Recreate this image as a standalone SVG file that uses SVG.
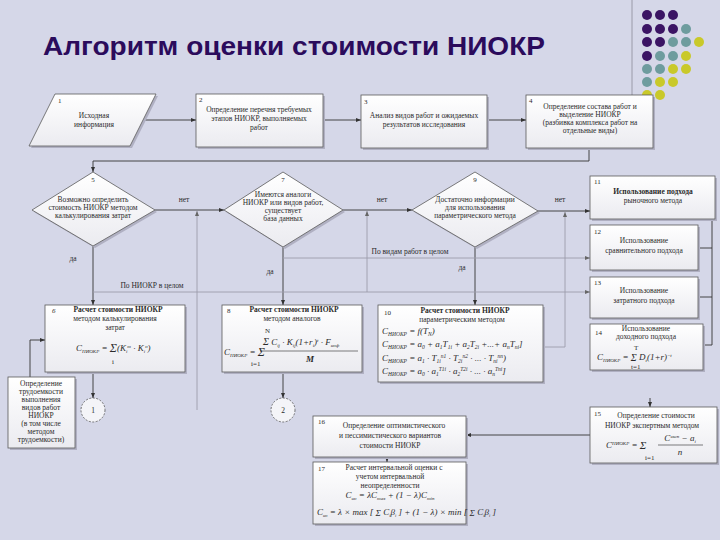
<svg xmlns="http://www.w3.org/2000/svg" width="720" height="540" viewBox="0 0 720 540">
<defs>
<linearGradient id="g" x1="0" y1="0" x2="0" y2="1"><stop offset="0" stop-color="#ffffff"/><stop offset="1" stop-color="#ebebf0"/></linearGradient>
<marker id="a" viewBox="0 0 10 10" refX="10" refY="5" markerWidth="6" markerHeight="6" orient="auto-start-reverse"><path d="M0,1 L10,5 L0,9 z" fill="#333"/></marker>
<marker id="ag" viewBox="0 0 10 10" refX="10" refY="5" markerWidth="6" markerHeight="6" orient="auto-start-reverse"><path d="M0,1 L10,5 L0,9 z" fill="#666"/></marker>
</defs>
<style>
.bx{fill:url(#g);stroke:#5a5a5a;stroke-width:.8}
.sh{fill:#b0b0c2}
.c{fill:none;stroke:#333;stroke-width:.9}
.cg{fill:none;stroke:#9c9cac;stroke-width:.9}
.t{font-family:"Liberation Serif",serif;font-size:7.5px;fill:#2a2a2a;text-anchor:middle}
.l{font-family:"Liberation Serif",serif;font-size:7.5px;fill:#2a2a2a}
.n{font-family:"Liberation Serif",serif;font-size:7px;fill:#2a2a2a}
.f{font-family:"Liberation Serif",serif;font-style:italic;font-size:9px;fill:#2a2a2a}
.b{font-weight:bold}
.dot1{fill:#3b1464}.dot2{fill:#6e9c9e}.dot3{fill:#c9c92a}
</style>
<rect width="720" height="540" fill="#d5d7e8"/>
<line x1="632" y1="0" x2="632" y2="95" stroke="#9a9aa8" stroke-width="1"/>
<g id="dots">
<circle class="dot1" cx="647" cy="15" r="5"/><circle class="dot1" cx="660" cy="15" r="5"/><circle class="dot1" cx="673" cy="15" r="5"/>
<circle class="dot1" cx="647" cy="29" r="5"/><circle class="dot1" cx="660" cy="29" r="5"/><circle class="dot1" cx="673" cy="29" r="5"/><circle class="dot2" cx="686" cy="29" r="5"/>
<circle class="dot1" cx="647" cy="42" r="5"/><circle class="dot1" cx="660" cy="42" r="5"/><circle class="dot2" cx="673" cy="42" r="5"/><circle class="dot2" cx="686" cy="42" r="5"/><circle class="dot3" cx="699" cy="42" r="5"/>
<circle class="dot1" cx="647" cy="56" r="5"/><circle class="dot2" cx="660" cy="56" r="5"/><circle class="dot2" cx="673" cy="56" r="5"/><circle class="dot3" cx="686" cy="56" r="5"/>
<circle class="dot2" cx="647" cy="69" r="5"/><circle class="dot2" cx="660" cy="69" r="5"/><circle class="dot3" cx="673" cy="69" r="5"/><circle class="dot3" cx="686" cy="69" r="5"/>
<circle class="dot2" cx="647" cy="82" r="5"/><circle class="dot3" cx="660" cy="82" r="5"/><circle class="dot3" cx="673" cy="82" r="5"/>
<circle class="dot3" cx="647" cy="95" r="5"/><circle class="dot3" cx="660" cy="95" r="5"/>
</g>
<text x="43" y="55" font-family="'Liberation Sans',Arial,sans-serif" font-weight="bold" font-size="26" fill="#2b0b5c" textLength="502" lengthAdjust="spacingAndGlyphs">Алгоритм оценки стоимости НИОКР</text>

<g id="connectors">
<polyline class="c" points="143,120 196,120" marker-end="url(#a)"/>
<polyline class="c" points="323,120 361,120" marker-end="url(#a)"/>
<polyline class="c" points="487,120 526,120" marker-end="url(#a)"/>
<polyline class="c" points="589,148 589,161 93,161 93,172" marker-end="url(#a)"/>
<polyline class="c" points="155,210 224,210" marker-end="url(#a)"/>
<polyline class="c" points="343,210 412,210" marker-end="url(#a)"/>
<polyline class="c" points="538,211 590,211" marker-end="url(#a)"/>
<polyline class="c" points="93,246 93,305" marker-end="url(#a)"/>
<polyline class="c" points="283,247 283,305" marker-end="url(#a)"/>
<polyline class="c" points="475,247 475,305" marker-end="url(#a)"/>
<polyline class="cg" points="283,258 590,258" marker-end="url(#ag)"/>
<polyline class="cg" points="93,292 590,292" marker-end="url(#ag)"/>
<polyline class="cg" points="197,410 197,211" marker-end="url(#ag)"/>
<polyline class="cg" points="367,292 367,211" marker-end="url(#ag)"/>
<polyline class="cg" points="543,347 565,347 565,212" marker-end="url(#ag)"/>
<polyline class="c" points="715,219 712,219 712,345 703,345"/>
<line class="c" x1="698" y1="248" x2="712" y2="248"/>
<line class="c" x1="698" y1="297" x2="712" y2="297"/>
<polyline class="c" points="650,398 650,407" marker-end="url(#a)"/>
<polyline class="c" points="93,372 93,398" marker-end="url(#a)"/>
<polyline class="c" points="283,372 283,398" marker-end="url(#a)"/>
<polyline class="c" points="30,377 30,340 45,340" marker-end="url(#a)"/>
<polyline class="c" points="590,435 466,435" marker-end="url(#a)"/>
<polyline class="c" points="387,457 387,462" marker-end="url(#a)"/>
<text class="t" x="184" y="202">нет</text>
<text class="t" x="382" y="202">нет</text>
<text class="t" x="560" y="202">нет</text>
<text class="t" x="73" y="261">да</text>
<text class="t" x="270" y="274">да</text>
<text class="t" x="462" y="270">да</text>
<text class="t" x="152" y="288">По НИОКР в целом</text>
<text class="t" x="410" y="254">По видам работ в целом</text>
</g>

<g id="n1">
<polygon class="sh" points="57,96 158,96 132,148 31,148"/>
<polygon class="bx" points="55,94 156,94 130,146 29,146"/>
<text class="n" x="58" y="103">1</text>
<text class="t" x="94" y="118">Исходная</text>
<text class="t" x="94" y="127">информация</text>
</g>
<g id="n2">
<rect class="sh" x="198" y="96" width="127" height="53"/>
<rect class="bx" x="196" y="94" width="127" height="53"/>
<text class="n" x="199" y="102">2</text>
<text class="t" x="259" y="112">Определение перечня требуемых</text>
<text class="t" x="259" y="121">этапов НИОКР, выполняемых</text>
<text class="t" x="259" y="130">работ</text>
</g>
<g id="n3">
<rect class="sh" x="363" y="97" width="126" height="53"/>
<rect class="bx" x="361" y="95" width="126" height="53"/>
<text class="n" x="364" y="104">3</text>
<text class="t" x="424" y="118">Анализ видов работ и ожидаемых</text>
<text class="t" x="424" y="127">результатов исследования</text>
</g>
<g id="n4">
<rect class="sh" x="528" y="97" width="127" height="53"/>
<rect class="bx" x="526" y="95" width="127" height="53"/>
<text class="n" x="529" y="103" font-size="5">4</text>
<text class="t" x="590" y="109">Определение состава работ и</text>
<text class="t" x="590" y="117">выделение НИОКР</text>
<text class="t" x="590" y="125">(разбивка комплекса работ на</text>
<text class="t" x="590" y="133">отдельные виды)</text>
</g>
<g id="n5">
<polygon class="sh" points="95,174 157,212 95,248 34,212"/>
<polygon class="bx" points="93,172 155,210 93,246 32,210"/>
<text class="n" x="93" y="182" text-anchor="middle">5</text>
<text class="t" x="93" y="202">Возможно определить</text>
<text class="t" x="93" y="210">стоимость НИОКР методом</text>
<text class="t" x="93" y="218">калькулирования затрат</text>
</g>
<g id="n7">
<polygon class="sh" points="285,174 345,212 285,249 226,212"/>
<polygon class="bx" points="283,172 343,210 283,247 224,210"/>
<text class="n" x="283" y="182" text-anchor="middle">7</text>
<text class="t" x="283" y="197">Имеются аналоги</text>
<text class="t" x="283" y="205">НИОКР или видов работ,</text>
<text class="t" x="283" y="213">существует</text>
<text class="t" x="283" y="221">база данных</text>
</g>
<g id="n9">
<polygon class="sh" points="477,174 540,213 477,249 414,212"/>
<polygon class="bx" points="475,172 538,211 475,247 412,210"/>
<text class="n" x="475" y="182" text-anchor="middle">9</text>
<text class="t" x="475" y="202">Достаточно информации</text>
<text class="t" x="475" y="210">для использования</text>
<text class="t" x="475" y="218">параметрического метода</text>
</g>
<g id="n11">
<rect class="sh" x="592" y="178" width="125" height="43"/>
<rect class="bx" x="590" y="176" width="125" height="43"/>
<text class="n" x="594" y="184">11</text>
<text class="t b" x="653" y="194">Использование подхода</text>
<text class="t" x="653" y="203">рыночного метода</text>
</g>
<g id="n12">
<rect class="sh" x="592" y="227" width="108" height="45"/>
<rect class="bx" x="590" y="225" width="108" height="45"/>
<text class="n" x="594" y="234">12</text>
<text class="t" x="644" y="243">Использование</text>
<text class="t" x="644" y="253">сравнительного подхода</text>
</g>
<g id="n13">
<rect class="sh" x="592" y="279" width="108" height="41"/>
<rect class="bx" x="590" y="277" width="108" height="41"/>
<text class="n" x="594" y="285">13</text>
<text class="t" x="644" y="293">Использование</text>
<text class="t" x="644" y="303">затратного подхода</text>
</g>
<g id="n14">
<rect class="sh" x="592" y="326" width="113" height="46"/>
<rect class="bx" x="590" y="324" width="113" height="46"/>
<text class="n" x="595" y="335">14</text>
<text class="t" x="646" y="331" font-size="9">Использование</text>
<text class="t" x="646" y="339">доходного подхода</text>
<text class="f" x="597" y="360" font-size="8">C<tspan font-size="5" dy="1.5">НИОКР</tspan><tspan dy="-1.5"> = </tspan><tspan font-size="10" dy="1">Σ</tspan><tspan dy="-1"> D</tspan><tspan font-size="5" dy="1.5">t</tspan><tspan dy="-1.5">(1+r)</tspan><tspan font-size="5" dy="-3">−t</tspan></text>
<text class="n" x="634" y="349.5" font-size="4.5">T</text>
<text class="n" x="631" y="369" font-size="4.5">t=1</text>
</g>
<g id="n15">
<rect class="sh" x="592" y="409" width="127" height="56"/>
<rect class="bx" x="590" y="407" width="127" height="56"/>
<text class="n" x="594" y="416">15</text>
<text class="t" x="656" y="418">Определение стоимости</text>
<text class="t" x="652" y="428">НИОКР экспертным методом</text>
<text class="f" x="606" y="448">C<tspan font-size="5" dy="-3">НИОКР</tspan><tspan dy="3"> = </tspan><tspan font-size="11" dy="1">Σ</tspan></text>
<text class="n" x="645" y="460" font-size="4.5">i=1</text>
<line x1="658" y1="445" x2="703" y2="445" stroke="#2a2a2a" stroke-width=".6"/>
<text class="f" x="680" y="441" text-anchor="middle" font-size="8">C<tspan font-size="5" dy="-3">эксп</tspan><tspan dy="3"> − a</tspan><tspan font-size="5" dy="1.5">i</tspan></text>
<text class="f" x="680" y="455" text-anchor="middle" font-size="8">n</text>
</g>
<g id="n6">
<rect class="sh" x="47" y="307" width="140" height="67"/>
<rect class="bx" x="45" y="305" width="140" height="67"/>
<text class="n" x="52" y="313" font-style="italic">6</text>
<text class="t b" x="118" y="312">Расчет стоимости НИОКР</text>
<text class="t" x="115" y="321">методом калькулирования</text>
<text class="t" x="115" y="330">затрат</text>
<text class="f" x="76" y="351" font-size="8">C<tspan font-size="5" dy="1.5">НИОКР</tspan><tspan dy="-1.5"> = </tspan><tspan font-size="12" dy="1">Σ</tspan><tspan dy="-1">(K</tspan><tspan font-size="5" dy="1.5">i</tspan><tspan font-size="5" dy="-4.5">т</tspan><tspan dy="3"> · K</tspan><tspan font-size="5" dy="1.5">i</tspan><tspan font-size="5" dy="-4.5">н</tspan><tspan dy="3">)</tspan></text>
<text class="n" x="112" y="364" font-size="4.5">i</text>
</g>
<g id="n8">
<rect class="sh" x="224" y="307" width="140" height="67"/>
<rect class="bx" x="222" y="305" width="140" height="67"/>
<text class="n" x="227" y="313">8</text>
<text class="t b" x="294" y="312">Расчет стоимости НИОКР</text>
<text class="t" x="292" y="321">методом аналогов</text>
<text class="f" x="224" y="355" font-size="8">C<tspan font-size="5" dy="1.5">НИОКР</tspan><tspan dy="-1.5"> = </tspan><tspan font-size="12" dy="1">Σ</tspan></text>
<text class="n" x="251" y="366" font-size="4.5">i=1</text>
<text class="f" x="263" y="345" font-size="7.5"><tspan font-size="10">Σ</tspan> C<tspan font-size="5" dy="1.5">ij</tspan><tspan dy="-1.5"> · K</tspan><tspan font-size="5" dy="1.5">ij</tspan><tspan dy="-1.5">(1+r</tspan><tspan font-size="5" dy="1.5">i</tspan><tspan dy="-1.5">)</tspan><tspan font-size="5" dy="-3">t</tspan><tspan dy="3"> · F</tspan><tspan font-size="5" dy="1.5">инф</tspan></text>
<text class="n" x="265" y="333" font-size="4.5">N</text>
<line x1="260" y1="351" x2="358" y2="351" stroke="#2a2a2a" stroke-width=".6"/>
<text class="f b" x="310" y="362" text-anchor="middle" font-size="8">M</text>
</g>
<g id="n10">
<rect class="sh" x="380" y="307" width="165" height="77"/>
<rect class="bx" x="378" y="305" width="165" height="77"/>
<text class="n" x="384" y="315">10</text>
<text class="t b" x="465" y="313">Расчет стоимости НИОКР</text>
<text class="t" x="462" y="322">параметрическим методом</text>
<text class="f" x="382" y="334">C<tspan font-size="5.5" dy="1.5">НИОКР</tspan><tspan dy="-1.5"> = f(T</tspan><tspan font-size="5.5" dy="1.5">N</tspan><tspan dy="-1.5">)</tspan></text>
<text class="f" x="382" y="347">C<tspan font-size="5.5" dy="1.5">НИОКР</tspan><tspan dy="-1.5"> = a</tspan><tspan font-size="5.5" dy="1.5">0</tspan><tspan dy="-1.5"> + a</tspan><tspan font-size="5.5" dy="1.5">1</tspan><tspan dy="-1.5">T</tspan><tspan font-size="5.5" dy="1.5">1i</tspan><tspan dy="-1.5"> + a</tspan><tspan font-size="5.5" dy="1.5">2</tspan><tspan dy="-1.5">T</tspan><tspan font-size="5.5" dy="1.5">2i</tspan><tspan dy="-1.5"> +...+ a</tspan><tspan font-size="5.5" dy="1.5">n</tspan><tspan dy="-1.5">T</tspan><tspan font-size="5.5" dy="1.5">ni</tspan><tspan dy="-1.5">]</tspan></text>
<text class="f" x="382" y="361">C<tspan font-size="5.5" dy="1.5">НИОКР</tspan><tspan dy="-1.5"> = a</tspan><tspan font-size="5.5" dy="1.5">1</tspan><tspan dy="-1.5"> · T</tspan><tspan font-size="5.5" dy="1.5">1i</tspan><tspan font-size="5.5" dy="-5">n1</tspan><tspan dy="3.5"> · T</tspan><tspan font-size="5.5" dy="1.5">2i</tspan><tspan font-size="5.5" dy="-5">n2</tspan><tspan dy="3.5"> · ... · T</tspan><tspan font-size="5.5" dy="1.5">ni</tspan><tspan font-size="5.5" dy="-5">nn</tspan><tspan dy="3.5">)</tspan></text>
<text class="f" x="382" y="374">C<tspan font-size="5.5" dy="1.5">НИОКР</tspan><tspan dy="-1.5"> = a</tspan><tspan font-size="5.5" dy="1.5">0</tspan><tspan dy="-1.5"> · a</tspan><tspan font-size="5.5" dy="1.5">1</tspan><tspan font-size="5.5" dy="-5">T1i</tspan><tspan dy="3.5"> · a</tspan><tspan font-size="5.5" dy="1.5">2</tspan><tspan font-size="5.5" dy="-5">T2i</tspan><tspan dy="3.5"> · ... · a</tspan><tspan font-size="5.5" dy="1.5">n</tspan><tspan font-size="5.5" dy="-5">Tni</tspan><tspan dy="3.5">]</tspan></text>
</g>
<g id="c1">
<circle cx="93" cy="410" r="12" fill="#f4f4f8" stroke="#555" stroke-width=".8" stroke-dasharray="2,1.5"/>
<text class="t" x="93" y="413">1</text>
</g>
<g id="c2">
<circle cx="283" cy="410" r="12" fill="#f4f4f8" stroke="#555" stroke-width=".8" stroke-dasharray="2,1.5"/>
<text class="t" x="283" y="413">2</text>
</g>
<g id="nt">
<rect class="sh" x="10" y="379" width="67" height="71"/>
<rect class="bx" x="8" y="377" width="67" height="71"/>
<text class="t" x="41" y="386">Определение</text>
<text class="t" x="41" y="394">трудоемкости</text>
<text class="t" x="41" y="402">выполнения</text>
<text class="t" x="41" y="410">видов работ</text>
<text class="t" x="41" y="418">НИОКР</text>
<text class="t" x="41" y="426">(в том числе</text>
<text class="t" x="41" y="434">методом</text>
<text class="t" x="41" y="442">трудоемкости)</text>
</g>
<g id="n16">
<rect class="sh" x="315" y="418" width="153" height="41"/>
<rect class="bx" x="313" y="416" width="153" height="41"/>
<text class="n" x="318" y="424">16</text>
<text class="t" x="394" y="428">Определение оптимистического</text>
<text class="t" x="390" y="438">и пессимистического вариантов</text>
<text class="t" x="390" y="448">стоимости НИОКР</text>
</g>
<g id="n17">
<rect class="sh" x="315" y="464" width="153" height="62"/>
<rect class="bx" x="313" y="462" width="153" height="62"/>
<text class="n" x="318" y="471">17</text>
<text class="t" x="394" y="470">Расчет интервальной оценки с</text>
<text class="t" x="390" y="479">учетом интервальной</text>
<text class="t" x="390" y="488">неопределенности</text>
<text class="f" x="390" y="498" text-anchor="middle" font-size="8">C<tspan font-size="5" dy="1.5">ин</tspan><tspan dy="-1.5"> = λC</tspan><tspan font-size="5" dy="1.5">max</tspan><tspan dy="-1.5"> + (1 − λ)C</tspan><tspan font-size="5" dy="1.5">min</tspan></text>
<text class="f" x="317" y="515" font-size="6.5">C<tspan font-size="4.5" dy="1.5">ин</tspan><tspan dy="-1.5"> = λ × max [ </tspan><tspan font-size="9" dy="1">Σ</tspan><tspan dy="-1"> C</tspan><tspan font-size="4.5" dy="1.5">i</tspan><tspan dy="-1.5">β</tspan><tspan font-size="4.5" dy="1.5">i</tspan><tspan dy="-1.5"> ] + (1 − λ) × min [ </tspan><tspan font-size="9" dy="1">Σ</tspan><tspan dy="-1"> C</tspan><tspan font-size="4.5" dy="1.5">i</tspan><tspan dy="-1.5">β</tspan><tspan font-size="4.5" dy="1.5">i</tspan><tspan dy="-1.5"> ]</tspan></text>
</g>
</svg>
